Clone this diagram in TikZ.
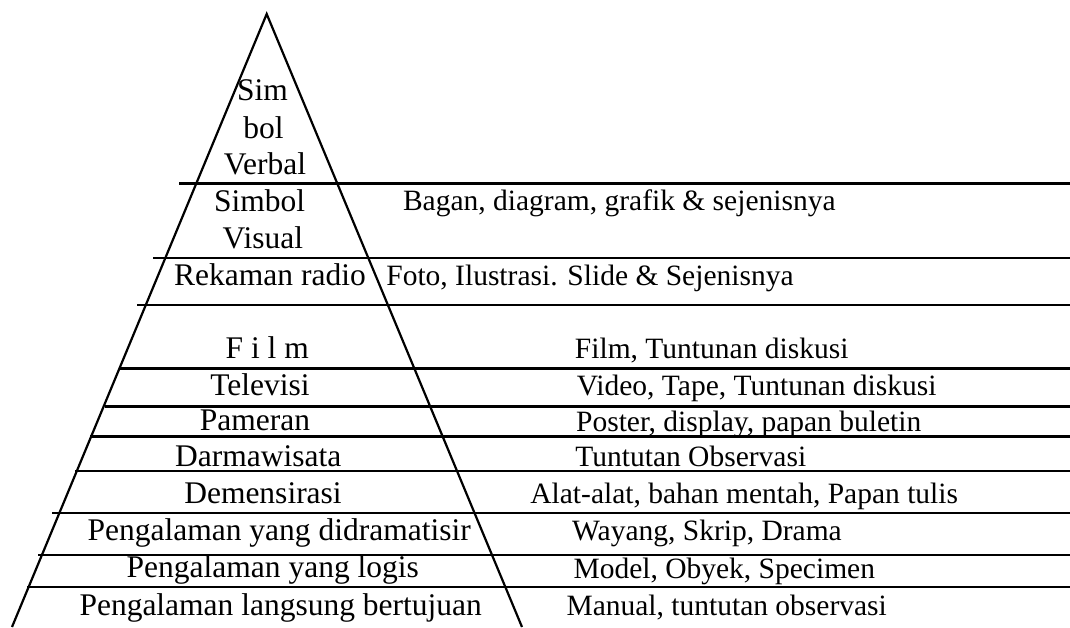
\documentclass[tikz,border=0pt]{standalone}
\usepackage{fontspec}
\setmainfont{Liberation Serif}
\begin{document}
\begin{tikzpicture}[x=1pt,y=-1pt,
  edge/.style={line width=2.2pt, line join=miter},
  lbl/.style={font=\fontsize{31.5}{36}\selectfont, anchor=base, inner sep=0pt},
  rlbl/.style={font=\fontsize{29.5}{34}\selectfont, anchor=base, inner sep=0pt}]
\useasboundingbox (0,0) rectangle (1070,627);
% triangle
\coordinate (apex) at (266.7,14);
\coordinate (bl) at (12,627);
\coordinate (br) at (522,627);
\coordinate (E) at (1070,0);
\draw[edge] (bl) -- (apex) -- (br);
% horizontal lines
\coordinate (h1) at (179,183.5);
\coordinate (h2) at (153,257.7);
\coordinate (h3) at (137,305.3);
\coordinate (h4) at (120,368.5);
\coordinate (h5) at (105,406.5);
\coordinate (h6) at (90,436.5);
\coordinate (h7) at (75,471.3);
\coordinate (h8) at (52,512.7);
\coordinate (h9) at (38,555);
\coordinate (h10) at (27,586.7);
\foreach \i in {1,...,10} {\draw[edge] (h\i) -- (h\i -| E);}
% left labels
\node[lbl] (l1) at (262.5,100) {Sim};
\node[lbl] (l2) at (263.5,138.3) {bol};
\node[lbl] (l3) at (265,174) {Verbal};
\node[lbl] (l4) at (259.7,211.7) {Simbol};
\node[lbl] (l5) at (262.9,248.3) {Visual};
\node[lbl] (l6) at (270,285) {Rekaman radio};
\node[lbl] (l7) at (267.2,358.3) {F i l m};
\node[lbl] (l8) at (260,395) {Televisi};
\node[lbl] (l9) at (255,430) {Pameran};
\node[lbl] (l10) at (258.3,466.7) {Darmawisata};
\node[lbl] (l11) at (263,503.3) {Demensirasi};
\node[lbl] (l12) at (279.2,540) {Pengalaman yang didramatisir};
\node[lbl] (l13) at (272.8,577.3) {Pengalaman yang logis};
\node[lbl] (l14) at (280.7,615) {Pengalaman langsung bertujuan};
% right labels
\node[rlbl] (r1) at (619.3,210) {Bagan, diagram, grafik \& sejenisnya};
\node[rlbl] (r2) at (590,285) {Foto, Ilustrasi. Slide \& Sejenisnya};
\node[rlbl] (r3) at (711.7,358.3) {Film, Tuntunan diskusi};
\node[rlbl] (r4) at (756.7,395) {Video, Tape, Tuntunan diskusi};
\node[rlbl] (r5) at (748.7,431.5) {Poster, display, papan buletin};
\node[rlbl] (r6) at (690.8,466.7) {Tuntutan Observasi};
\node[rlbl] (r7) at (744.2,503.3) {Alat-alat, bahan mentah, Papan tulis};
\node[rlbl] (r8) at (707,540.7) {Wayang, Skrip, Drama};
\node[rlbl] (r9) at (724.3,578) {Model, Obyek, Specimen};
\node[rlbl] (r10) at (726.7,615) {Manual, tuntutan observasi};
\end{tikzpicture}
\end{document}
